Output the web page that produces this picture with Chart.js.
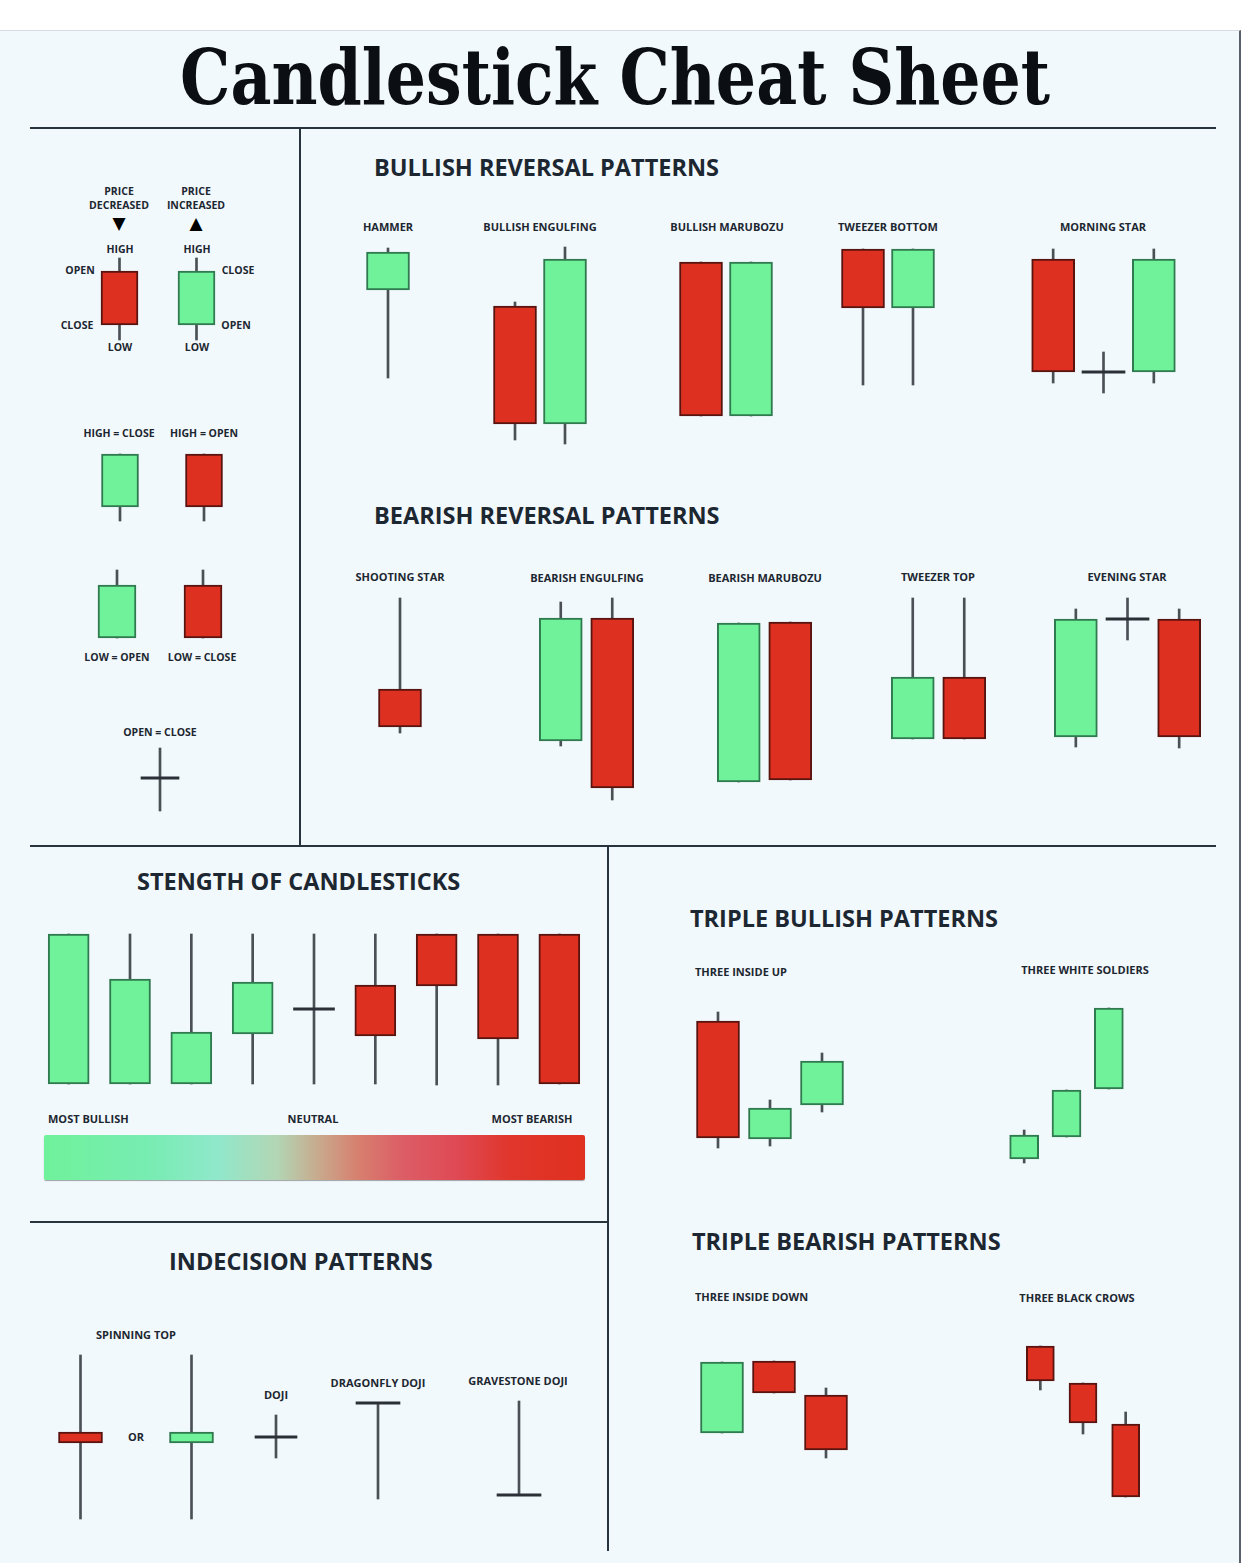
<!DOCTYPE html>
<html>
<head>
<meta charset="utf-8">
<script src="https://cdn.jsdelivr.net/npm/chart.js@4.4.0/dist/chart.umd.min.js"></script>
<style>
  html, body { margin: 0; padding: 0; background: #ffffff; }
  #sheet { position: relative; width: 1242px; height: 1563px; overflow: hidden; }
  #panel { position: absolute; left: 0; top: 30px; width: 1239px; height: 1533px;
    background: #f2f9fc; border-top: 1px solid #d6dcdf; border-right: 2px solid #59606a; }
  #sheet canvas { position: absolute; }
  .rule { position: absolute; background: #27333d; }
  .lbl { position: absolute; white-space: nowrap; color: #1d2731; font-family: "Open Sans", sans-serif;
    font-weight: 700; line-height: 1; transform: translateY(-50%); }
  .lbl.c { transform: translate(-50%, -50%); }
  #title { position: absolute; left: 615px; top: 78px; font-family: "DejaVu Serif", serif; font-weight: 700;
    font-size: 76px; color: #0b0e12; white-space: nowrap; line-height: 1; transform-origin: center; }
  #gradient { position: absolute; left: 44px; top: 1135px; width: 541px; height: 45px; border-radius: 2px;
    box-shadow: 0 1px 1px rgba(0,0,0,0.35);
    background: linear-gradient(to right, #6ff29b 0%, #78ecb3 20%, #90e8cb 32%, #b2d6b4 43%, #c9a88c 51%,
      #d7806f 58%, #dc5e66 66%, #df4a55 76%, #e0362c 86%, #e0301f 100%); }
</style>
</head>
<body>
<div id="sheet"><div id="panel"></div><div id="gradient"></div><div id="title">Candlestick Cheat Sheet</div></div>
<script>
"use strict";

// candle values as [open, high, low, close], one unit = 2px of the picture
var anatomyOHLC = [[39.5, 46, 5, 12.5], [12.5, 46, 5, 39.5]];
var highEqualOHLC = [[11.5, 38, 4.5, 38], [38, 38, 4.5, 11.5]];
var lowEqualOHLC = [[3.5, 37.5, 3.5, 30], [30, 37.5, 3.5, 3.5]];
var openCloseOHLC = [[21, 36, 4.5, 21]];

var hammerOHLC = [[80, 101, 36, 99]];
var bullEngulfOHLC = [[72, 74, 5, 13], [13, 101.5, 3, 95.5]];
var bullMarubozuOHLC = [[94, 94, 17, 17], [17, 94, 17, 94]];
var tweezerBottomOHLC = [[100.5, 100.5, 32.5, 71], [71, 100.5, 32.5, 100.5]];
var morningStarOHLC = [[95.5, 100.5, 33.5, 39], [39, 49, 28.5, 39], [39, 100.5, 33.5, 95.5]];

var shootingStarOHLC = [[60.5, 106, 38.5, 41.5]];
var bearEngulfOHLC = [[34.5, 104, 32, 96], [96, 106, 5, 11]];
var bearMarubozuOHLC = [[14, 93.5, 14, 93.5], [94, 94, 15, 15]];
var tweezerTopOHLC = [[35.5, 106, 35.5, 66.5], [66.5, 106, 35.5, 35.5]];
var eveningStarOHLC = [[36.5, 100.5, 31.5, 95.5], [95.5, 106, 85, 95.5], [95.5, 100.5, 31, 36.5]];

var strengthOHLC = [
  [5, 80, 5, 80],
  [5, 80, 5, 57.5],
  [5, 80, 5, 31],
  [30, 80, 5, 56],
  [42.5, 80, 5, 42.5],
  [54.5, 80, 5, 29],
  [80, 80, 4.5, 54],
  [80, 80, 4.5, 27.5],
  [80, 80, 5, 5]
];

var insideUpOHLC = [[69.5, 74, 6, 11], [10.5, 30, 7, 26], [27.5, 53.5, 24, 49.5]];
var whiteSoldiersOHLC = [[5.5, 20, 3.5, 17.5], [16.5, 40, 16.5, 40], [40.5, 81, 40.5, 81]];
var insideDownOHLC = [[18.5, 54, 18.5, 54], [54.5, 54.5, 38.5, 38.5], [37.5, 41, 6, 10]];
var blackCrowsOHLC = [[79.5, 79.5, 57.5, 62], [61, 61, 35.5, 41], [40.5, 46.5, 4, 4]];

var spinningTopOHLC = [[46.5, 85, 3, 41], [41, 85, 3, 46.5]];
var dojiOHLC = [[44, 55, 33.5, 44]];
var dragonflyOHLC = [[61, 61, 13, 61]];
var gravestoneOHLC = [[15, 62, 15, 15]];

var GREEN = "#6ff299";
var GREEN_EDGE = "#2f7a4f";
var RED = "#de3020";
var RED_EDGE = "#5a1410";
var INK = "#2b3036";
var WICK = "#4a5056";
var DOJI_HALF = 0.6;

// where each group of candles sits on the sheet
var groups = [
  { data: anatomyOHLC, left: 81, top: 250, width: 154, height: 100, bar: 37 },
  { data: highEqualOHLC, left: 77.5, top: 445, width: 168, height: 85, bar: 37 },
  { data: lowEqualOHLC, left: 74, top: 560, width: 172, height: 85, bar: 38 },
  { data: openCloseOHLC, left: 135, top: 740, width: 50, height: 80, bar: 38 },

  { data: hammerOHLC, left: 363, top: 240, width: 50, height: 210, bar: 43 },
  { data: bullEngulfOHLC, left: 490, top: 240, width: 100, height: 210, bar: 43 },
  { data: bullMarubozuOHLC, left: 676, top: 240, width: 100, height: 210, bar: 43 },
  { data: tweezerBottomOHLC, left: 838, top: 240, width: 100, height: 210, bar: 43 },
  { data: morningStarOHLC, left: 1028, top: 240, width: 151, height: 210, bar: 43 },

  { data: shootingStarOHLC, left: 374.5, top: 590, width: 50, height: 220, bar: 43 },
  { data: bearEngulfOHLC, left: 535, top: 590, width: 103, height: 220, bar: 43 },
  { data: bearMarubozuOHLC, left: 713, top: 590, width: 103, height: 220, bar: 43 },
  { data: tweezerTopOHLC, left: 887, top: 590, width: 103, height: 220, bar: 43 },
  { data: eveningStarOHLC, left: 1050, top: 590, width: 155, height: 220, bar: 43 },

  { data: strengthOHLC, left: 38, top: 924, width: 552, height: 170, bar: 41 },

  { data: insideUpOHLC, left: 691.5, top: 1000, width: 156, height: 160, bar: 43 },
  { data: whiteSoldiersOHLC, left: 1003, top: 1000, width: 127, height: 170, bar: 29 },
  { data: insideDownOHLC, left: 695.5, top: 1340, width: 156, height: 130, bar: 43 },
  { data: blackCrowsOHLC, left: 1018.5, top: 1335, width: 128, height: 170, bar: 28 },

  { data: spinningTopOHLC, left: 24.5, top: 1345, width: 222, height: 180, bar: 44 },
  { data: dojiOHLC, left: 246, top: 1345, width: 60, height: 180, bar: 42 },
  { data: dragonflyOHLC, left: 348, top: 1345, width: 60, height: 180, bar: 44 },
  { data: gravestoneOHLC, left: 489, top: 1345, width: 60, height: 180, bar: 44 }
];

var rules = [
  { x: 30, y: 127, w: 1186, h: 2 },
  { x: 299, y: 127, w: 2, h: 719 },
  { x: 30, y: 845, w: 1186, h: 2 },
  { x: 607, y: 845, w: 2, h: 706 },
  { x: 30, y: 1221, w: 578, h: 2 }
];

var headings = [
  ["BULLISH REVERSAL PATTERNS", 374, 168],
  ["BEARISH REVERSAL PATTERNS", 374, 516],
  ["STENGTH OF CANDLESTICKS", 137, 882],
  ["TRIPLE BULLISH PATTERNS", 690, 919],
  ["TRIPLE BEARISH PATTERNS", 692, 1242],
  ["INDECISION PATTERNS", 169, 1262]
];

// [text, x, y, size, centred]
var labels = [
  ["HAMMER", 388, 226, 11, true],
  ["BULLISH ENGULFING", 540, 226, 11, true],
  ["BULLISH MARUBOZU", 727, 226, 11, true],
  ["TWEEZER BOTTOM", 888, 226, 11, true],
  ["MORNING STAR", 1103, 226, 11, true],
  ["SHOOTING STAR", 400, 576, 11, true],
  ["BEARISH ENGULFING", 587, 577, 11, true],
  ["BEARISH MARUBOZU", 765, 577, 11, true],
  ["TWEEZER TOP", 938, 576, 11, true],
  ["EVENING STAR", 1127, 576, 11, true],
  ["PRICE", 119, 191, 10.5, true],
  ["DECREASED", 119, 205, 10.5, true],
  ["PRICE", 196, 191, 10.5, true],
  ["INCREASED", 196, 205, 10.5, true],
  ["\u25BC", 119, 223, 17, true],
  ["\u25B2", 196, 223, 17, true],
  ["HIGH", 120, 249, 10.5, true],
  ["HIGH", 197, 249, 10.5, true],
  ["LOW", 120, 347, 10.5, true],
  ["LOW", 197, 347, 10.5, true],
  ["OPEN", 80, 270, 10.5, true],
  ["CLOSE", 77, 325, 10.5, true],
  ["CLOSE", 238, 270, 10.5, true],
  ["OPEN", 236, 325, 10.5, true],
  ["HIGH = CLOSE", 119, 433, 10.5, true],
  ["HIGH = OPEN", 204, 433, 10.5, true],
  ["LOW = OPEN", 117, 657, 10.5, true],
  ["LOW = CLOSE", 202, 657, 10.5, true],
  ["OPEN = CLOSE", 160, 732, 10.5, true],
  ["MOST BULLISH", 48, 1118, 11, false],
  ["NEUTRAL", 313, 1118, 11, true],
  ["MOST BEARISH", 532, 1118, 11, true],
  ["THREE INSIDE UP", 695, 971, 11, false],
  ["THREE WHITE SOLDIERS", 1085, 969, 11, true],
  ["THREE INSIDE DOWN", 695, 1296, 11, false],
  ["THREE BLACK CROWS", 1077, 1297, 11, true],
  ["SPINNING TOP", 136, 1334, 11, true],
  ["OR", 136, 1436, 11, true],
  ["DOJI", 276, 1394, 11, true],
  ["DRAGONFLY DOJI", 378, 1382, 11, true],
  ["GRAVESTONE DOJI", 518, 1380, 11, true]
];

var sheet = document.getElementById("sheet");

rules.forEach(function (r) {
  var d = document.createElement("div");
  d.className = "rule";
  d.style.left = r.x + "px";
  d.style.top = r.y + "px";
  d.style.width = r.w + "px";
  d.style.height = r.h + "px";
  sheet.appendChild(d);
});

function addText(text, x, y, size, centred, weight) {
  var d = document.createElement("div");
  d.className = centred ? "lbl c" : "lbl";
  d.textContent = text;
  d.style.left = x + "px";
  d.style.top = y + "px";
  d.style.fontSize = size + "px";
  if (weight) d.style.fontWeight = weight;
  if (text === "\u25BC" || text === "\u25B2") {
    d.style.fontFamily = "DejaVu Sans";
    d.style.color = "#000";
  }
  sheet.appendChild(d);
}

headings.forEach(function (h) {
  addText(h[0], h[1], h[2], 23.5, false, 700);
});
labels.forEach(function (l) {
  addText(l[0], l[1], l[2], l[3], l[4]);
});

// squeeze the title to the width it has in the picture
var title = document.getElementById("title");
var tw = title.getBoundingClientRect().width;
title.style.transform = "translate(-50%, -50%) scaleX(" + (870 / tw) + ")";

function candleGroup(g) {
  var canvas = document.createElement("canvas");
  canvas.width = g.width;
  canvas.height = g.height;
  canvas.style.left = g.left + "px";
  canvas.style.top = g.top + "px";
  sheet.appendChild(canvas);

  var isDoji = g.data.map(function (d) {
    return d[0] === d[3];
  });

  new Chart(canvas, {
    type: "bar",
    data: {
      labels: g.data.map(function (d, i) {
        return "c" + (i + 1);
      }),
      datasets: [
        {
          // wicks
          data: g.data.map(function (d) {
            return [d[2], d[1]];
          }),
          backgroundColor: WICK,
          barThickness: 2,
          grouped: false,
          order: 2,
        },
        {
          // bodies
          data: g.data.map(function (d, i) {
            return isDoji[i] ? [d[0] - DOJI_HALF, d[0] + DOJI_HALF] : [d[0], d[3]];
          }),
          backgroundColor: g.data.map(function (d, i) {
            if (isDoji[i]) return INK;
            return d[3] > d[0] ? GREEN : RED;
          }),
          borderColor: g.data.map(function (d) {
            return d[3] > d[0] ? GREEN_EDGE : RED_EDGE;
          }),
          borderWidth: g.data.map(function (d, i) {
            return isDoji[i] ? 0 : 2;
          }),
          borderSkipped: false,
          barThickness: g.bar,
          grouped: false,
          order: 1,
        },
      ],
    },
    options: {
      responsive: false,
      animation: false,
      events: [],
      layout: { padding: 0 },
      plugins: {
        legend: { display: false },
        tooltip: { enabled: false },
      },
      scales: {
        x: { display: false, offset: true },
        y: { display: false, min: 0, max: g.height / 2 },
      },
    },
  });
}

groups.forEach(candleGroup);
</script>
</body>
</html>
